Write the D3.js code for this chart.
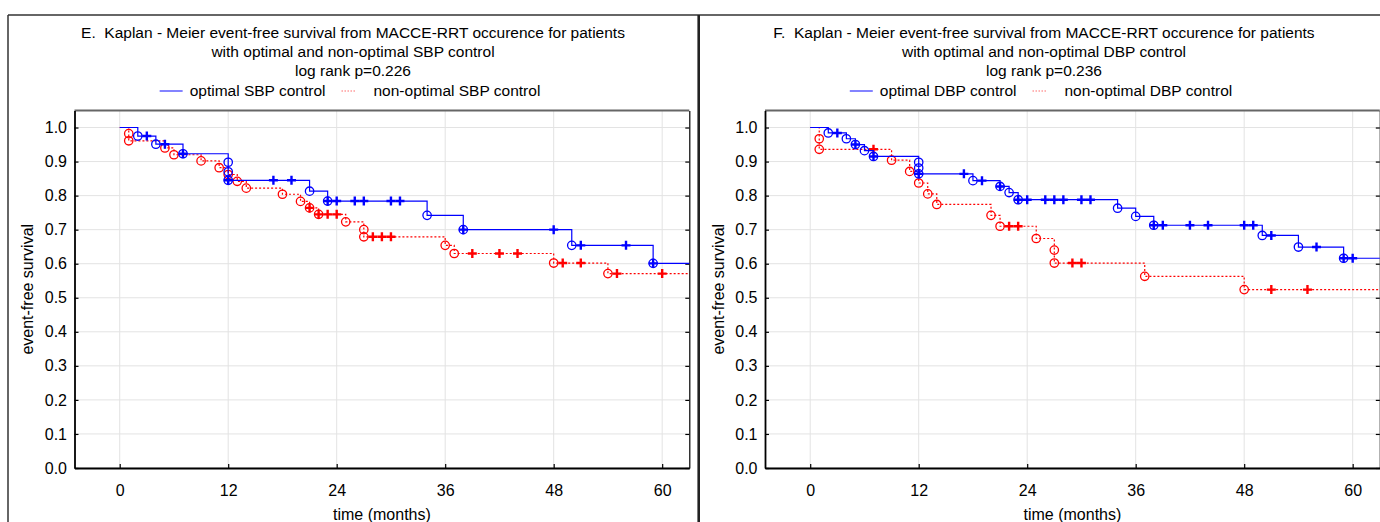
<!DOCTYPE html>
<html>
<head>
<meta charset="utf-8">
<script src="https://cdn.jsdelivr.net/npm/d3@7"></script>
<style>
  body { margin: 0; background: #fff; }
  svg { display: block; }
  text { font-family: "Liberation Sans", Arial, sans-serif; fill: #000; white-space: pre; }
</style>
</head>
<body>
<svg id="chart" width="1380" height="522"></svg>
<script>
// tick labels
const monthTicks = [0, 12, 24, 36, 48, 60]
const survTicks = [0.0, 0.1, 0.2, 0.3, 0.4, 0.5, 0.6, 0.7, 0.8, 0.9, 1.0]

// E. SBP control - events (time, survival after event) and censored times
const sbpOptEvT = [2, 4, 7, 12, 12, 12, 21, 23, 34, 38, 50, 59]
const sbpOptEvS = [0.975, 0.951, 0.923, 0.898, 0.870, 0.845, 0.813, 0.784, 0.742, 0.700, 0.654, 0.601]
const sbpOptCens = [3, 5, 7, 12, 17, 19, 23, 24, 26, 27, 30, 31, 38, 48, 51, 56, 59]

const sbpNonEvT = [1, 1, 5, 6, 9, 11, 12, 13, 14, 18, 20, 21, 22, 25, 27, 27, 36, 37, 48, 54]
const sbpNonEvS = [0.982, 0.961, 0.940, 0.920, 0.902, 0.882, 0.862, 0.842, 0.822, 0.804, 0.783, 0.764, 0.745, 0.723, 0.700, 0.679, 0.654, 0.630, 0.602, 0.571]
const sbpNonCens = [21, 22, 23, 24, 28, 29, 30, 39, 42, 44, 49, 51, 55, 60]

// F. DBP control
const dbpOptEvT = [2, 4, 5, 6, 7, 12, 12, 12, 18, 21, 22, 23, 34, 36, 38, 50, 54, 59]
const dbpOptEvS = [0.984, 0.967, 0.950, 0.932, 0.915, 0.898, 0.881, 0.864, 0.844, 0.827, 0.809, 0.788, 0.763, 0.739, 0.713, 0.683, 0.649, 0.616]
const dbpOptCens = [3, 5, 7, 12, 17, 19, 21, 23, 24, 26, 27, 28, 30, 31, 38, 39, 42, 44, 48, 49, 51, 56, 59, 60]

const dbpNonEvT = [1, 1, 9, 11, 12, 13, 14, 20, 21, 25, 27, 27, 37, 48]
const dbpNonEvS = [0.967, 0.936, 0.904, 0.871, 0.837, 0.805, 0.774, 0.742, 0.710, 0.674, 0.640, 0.602, 0.563, 0.524]
const dbpNonCens = [7, 22, 23, 29, 30, 51, 55]

const panels = [
  {
    x0: 74.5, x1: 689.3, cx: 353,
    title: ["E.  Kaplan - Meier event-free survival from MACCE-RRT occurence for patients",
            "with optimal and non-optimal SBP control", "log rank p=0.226"],
    names: ["optimal SBP control", "non-optimal SBP control"],
    opt: { t: sbpOptEvT, s: sbpOptEvS, c: sbpOptCens },
    non: { t: sbpNonEvT, s: sbpNonEvS, c: sbpNonCens }
  },
  {
    x0: 765, x1: 1379.8, cx: 1044,
    title: ["F.  Kaplan - Meier event-free survival from MACCE-RRT occurence for patients",
            "with optimal and non-optimal DBP control", "log rank p=0.236"],
    names: ["optimal DBP control", "non-optimal DBP control"],
    opt: { t: dbpOptEvT, s: dbpOptEvS, c: dbpOptCens },
    non: { t: dbpNonEvT, s: dbpNonEvS, c: dbpNonCens }
  }
]

const svg = d3.select("#chart")
const yTop = 110.5, yBot = 468
const BLUE = "#0000ff", RED = "#ff0000"

// outer frames
svg.append("line").attr("x1", 8).attr("x2", 1380).attr("y1", 15).attr("y2", 15)
  .attr("stroke", "#333").attr("stroke-width", 1.5)
svg.append("line").attr("x1", 8).attr("x2", 8).attr("y1", 15).attr("y2", 522)
  .attr("stroke", "#333").attr("stroke-width", 1.5)
svg.append("line").attr("x1", 698.7).attr("x2", 698.7).attr("y1", 15).attr("y2", 522)
  .attr("stroke", "#222").attr("stroke-width", 2.6)

function survAt(ser, t) {
  let s = 1
  ser.t.forEach((tt, i) => { if (tt <= t) s = Math.min(s, ser.s[i]) })
  return s
}

function drawPanel(p, idx) {
  const g = svg.append("g")
  const x = d3.scaleLinear().domain([-5, 63]).range([p.x0, p.x1])
  const y = d3.scaleLinear().domain([0, 1.05]).range([yBot, yTop])

  // titles
  g.selectAll(".title").data(p.title).enter().append("text")
    .attr("x", p.cx).attr("y", (d, i) => 33 + i * 19).attr("dy", "0.35em")
    .attr("text-anchor", "middle").style("font-size", "15.5px").text(d => d)

  // grid
  g.selectAll(".gx").data(monthTicks).enter().append("line")
    .attr("x1", d => x(d)).attr("x2", d => x(d)).attr("y1", yTop).attr("y2", yBot)
    .attr("stroke", "#e3e3e3").attr("stroke-width", 1)
  g.selectAll(".gy").data(survTicks).enter().append("line")
    .attr("x1", p.x0).attr("x2", p.x1).attr("y1", d => y(d)).attr("y2", d => y(d))
    .attr("stroke", "#e3e3e3").attr("stroke-width", 1)

  // top border
  g.append("line").attr("x1", p.x0).attr("x2", p.x1).attr("y1", yTop).attr("y2", yTop)
    .attr("stroke", "#666").attr("stroke-width", 2)

  // axes
  const ax = g.append("g").attr("transform", "translate(0," + yBot + ")")
    .call(d3.axisBottom(x).tickValues(monthTicks).tickSize(-4).tickSizeOuter(0).tickPadding(16.3))
  const ay = g.append("g").attr("transform", "translate(" + p.x0 + ",0)")
    .call(d3.axisLeft(y).tickValues(survTicks).tickFormat(d3.format(".1f")).tickSize(-4).tickSizeOuter(0).tickPadding(7.5))
  const ar = g.append("g").attr("transform", "translate(" + p.x1 + ",0)")
    .call(d3.axisRight(y).tickValues(survTicks).tickFormat("").tickSize(-4).tickSizeOuter(0))
  ;[ax, ay, ar].forEach(a => {
    a.attr("font-size", null).attr("font-family", null)
    a.selectAll("text").style("font-size", "16px")
    a.selectAll("line").attr("stroke", "#000").attr("stroke-width", 1.2)
  })
  ax.select(".domain").attr("stroke-width", 1.8)
  ay.select(".domain").attr("stroke-width", 1.8)
  ar.select(".domain").attr("stroke-width", 1.2)

  // axis titles
  g.append("text").attr("x", (p.x0 + p.x1) / 2).attr("y", 514).attr("dy", "0.35em")
    .attr("text-anchor", "middle").style("font-size", "16px").text("time (months)")
  g.append("text").attr("transform", "translate(" + (p.x0 - 47) + "," + ((yTop + yBot) / 2) + ") rotate(-90)")
    .attr("dy", "0.35em").attr("text-anchor", "middle").style("font-size", "16px").text("event-free survival")

  // curves
  const line = d3.line().x(d => x(d[0])).y(d => y(d[1])).curve(d3.curveStepAfter)
  const series = [
    { ser: p.non, color: RED, dash: "2,2" },
    { ser: p.opt, color: BLUE, dash: null }
  ]
  series.forEach(({ ser, color, dash }) => {
    const pts = [[0, 1]].concat(ser.t.map((t, i) => [t, ser.s[i]]))
    pts.push([63, ser.s[ser.s.length - 1]])
    g.append("path").datum(pts).attr("d", line)
      .attr("fill", "none").attr("stroke", color).attr("stroke-width", 1.2)
      .attr("stroke-dasharray", dash)
    g.selectAll(null).data(ser.t.map((t, i) => [t, ser.s[i]])).enter().append("circle")
      .attr("cx", d => x(d[0])).attr("cy", d => y(d[1])).attr("r", 4.2)
      .attr("fill", "none").attr("stroke", color).attr("stroke-width", 1.3)
    g.selectAll(null).data(ser.c).enter().append("path")
      .attr("transform", d => "translate(" + x(d) + "," + y(survAt(ser, d)) + ")")
      .attr("d", "M-4.5,0H4.5M0,-4.5V4.5")
      .attr("stroke", color).attr("stroke-width", 2.4).attr("fill", "none")
  })

  // legend
  const lg = g.append("g").attr("transform", "translate(0,91)")
  const t1 = lg.append("text").attr("dy", "0.35em").style("font-size", "15.5px").text(p.names[0])
  const t2 = lg.append("text").attr("dy", "0.35em").style("font-size", "15.5px").text(p.names[1])
  const w1 = t1.node().getComputedTextLength(), w2 = t2.node().getComputedTextLength()
  const total = 23 + 7 + w1 + 16 + 14 + 18 + w2
  let lx = p.cx - total / 2 - 3
  lg.append("line").attr("x1", lx).attr("x2", lx + 23).attr("y1", 0).attr("y2", 0)
    .attr("stroke", "#5a5aff").attr("stroke-width", 1.5)
  t1.attr("x", lx + 30)
  lx += 30 + w1 + 16
  lg.append("line").attr("x1", lx).attr("x2", lx + 14).attr("y1", 0).attr("y2", 0)
    .attr("stroke", "#ff6a6a").attr("stroke-width", 1.2).attr("stroke-dasharray", "1.5,1.5")
  t2.attr("x", lx + 32)
}

panels.forEach(drawPanel)
</script>
</body>
</html>
